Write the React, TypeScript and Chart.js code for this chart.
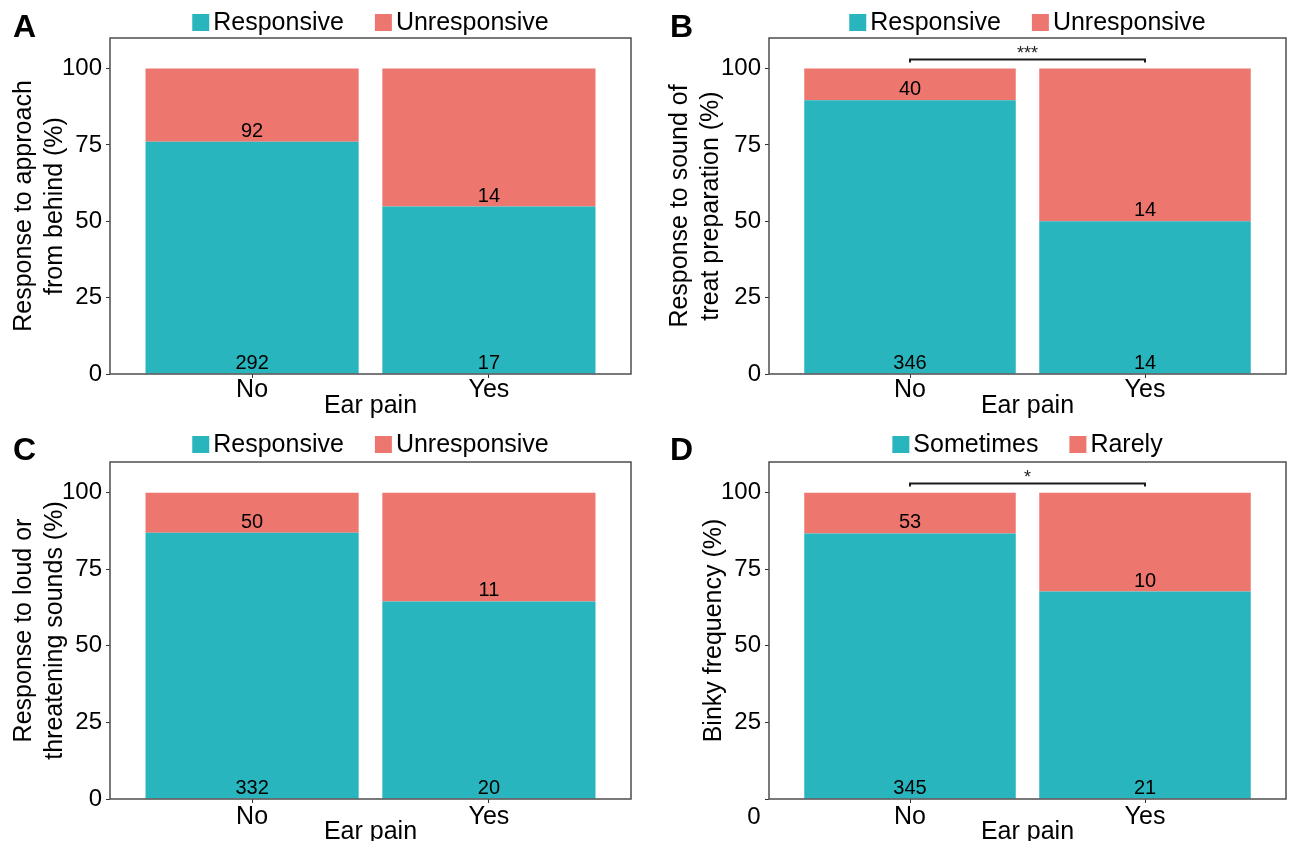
import React, { useEffect, useRef } from 'react';
import { Chart, registerables } from 'chart.js';

Chart.register(...registerables);

const FONT = "'Liberation Sans', Arial, Helvetica, sans-serif";

// ---------- data ----------
const categories = ['No', 'Yes'];
const yTickValues = [0, 25, 50, 75, 100];
const xAxisTitle = 'Ear pain';

const responseLegend = ['Responsive', 'Unresponsive'];
const binkyLegend = ['Sometimes', 'Rarely'];

// A: response to approach from behind
const approachResponsivePct = [76.0, 54.8];
const approachUnresponsivePct = [24.0, 45.2];
const approachResponsiveN = [292, 17];
const approachUnresponsiveN = [92, 14];

// B: response to sound of treat preparation
const treatResponsivePct = [89.6, 50.0];
const treatUnresponsivePct = [10.4, 50.0];
const treatResponsiveN = [346, 14];
const treatUnresponsiveN = [40, 14];

// C: response to loud or threatening sounds
const loudResponsivePct = [86.9, 64.5];
const loudUnresponsivePct = [13.1, 35.5];
const loudResponsiveN = [332, 20];
const loudUnresponsiveN = [50, 11];

// D: binky frequency
const binkySometimesPct = [86.7, 67.7];
const binkyRarelyPct = [13.3, 32.3];
const binkySometimesN = [345, 21];
const binkyRarelyN = [53, 10];

// significance brackets
const sigB = '***';
const sigD = '*';
const bracketLevel = 103;
const bracketTickEnd = 102;

const TEAL = '#29b5bd';
const SALMON = '#ed766f';

type PanelCfg = {
  letter: string;
  yTitle: string[];
  legend: string[];
  lowPct: number[];
  highPct: number[];
  lowN: number[];
  highN: number[];
  sig: string | null;
  zeroBelow: boolean;
  box: { x: number; y: number; w: number; h: number };
  inset: { left: number; right: number; top: number; bottom: number };
  yTitlePad: number;
  xTickPad: number;
  xTitlePadBottom: number;
  letterX: number;
  letterY: number;
  legendY: number;
};

const panels: PanelCfg[] = [
  {
    letter: 'A',
    yTitle: ['Response to approach', 'from behind (%)'],
    legend: responseLegend,
    lowPct: approachResponsivePct,
    highPct: approachUnresponsivePct,
    lowN: approachResponsiveN,
    highN: approachUnresponsiveN,
    sig: null,
    zeroBelow: false,
    box: { x: 0, y: 0, w: 650, h: 420 },
    inset: { left: 110, right: 19, top: 38, bottom: 46 },
    yTitlePad: 8.4,
    xTickPad: 0,
    xTitlePadBottom: -1,
    letterX: 13,
    letterY: 37,
    legendY: 22.5,
  },
  {
    letter: 'B',
    yTitle: ['Response to sound of', 'treat preparation (%)'],
    legend: responseLegend,
    lowPct: treatResponsivePct,
    highPct: treatUnresponsivePct,
    lowN: treatResponsiveN,
    highN: treatUnresponsiveN,
    sig: sigB,
    zeroBelow: false,
    box: { x: 650, y: 0, w: 641, h: 420 },
    inset: { left: 119, right: 5, top: 38, bottom: 46 },
    yTitlePad: 14.4,
    xTickPad: 0,
    xTitlePadBottom: -1,
    letterX: 20,
    letterY: 37,
    legendY: 22.5,
  },
  {
    letter: 'C',
    yTitle: ['Response to loud or', 'threatening sounds (%)'],
    legend: responseLegend,
    lowPct: loudResponsivePct,
    highPct: loudUnresponsivePct,
    lowN: loudResponsiveN,
    highN: loudUnresponsiveN,
    sig: null,
    zeroBelow: false,
    box: { x: 0, y: 420, w: 650, h: 421 },
    inset: { left: 110, right: 19, top: 42, bottom: 42 },
    yTitlePad: 8.4,
    xTickPad: 2,
    xTitlePadBottom: -6,
    letterX: 13,
    letterY: 40,
    legendY: 24.5,
  },
  {
    letter: 'D',
    yTitle: ['Binky frequency (%)'],
    legend: binkyLegend,
    lowPct: binkySometimesPct,
    highPct: binkyRarelyPct,
    lowN: binkySometimesN,
    highN: binkyRarelyN,
    sig: sigD,
    zeroBelow: true,
    box: { x: 650, y: 420, w: 641, h: 421 },
    inset: { left: 119, right: 5, top: 42, bottom: 42 },
    yTitlePad: 48.4,
    xTickPad: 2,
    xTitlePadBottom: -6,
    letterX: 20,
    letterY: 40,
    legendY: 24.5,
  },
];

const decorPlugin = {
  id: 'decor',
  afterDatasetsDraw(chart: any, _args: any, opts: any) {
    const ctx = chart.ctx;
    ctx.save();
    ctx.font = `20px ${FONT}`;
    ctx.fillStyle = '#000';
    ctx.textAlign = 'center';
    ctx.textBaseline = 'alphabetic';
    chart.data.datasets.forEach((ds: any, di: number) => {
      const meta = chart.getDatasetMeta(di);
      meta.data.forEach((el: any, i: number) => {
        ctx.fillText(String(ds.counts[i]), el.x, el.base - 5);
      });
    });
    ctx.restore();
  },
  afterDraw(chart: any, _args: any, opts: any) {
    const ctx = chart.ctx;
    const a = chart.chartArea;
    const cfg: PanelCfg = opts.cfg;
    ctx.save();
    // panel box
    ctx.strokeStyle = '#4d4d4d';
    ctx.lineWidth = 1.5;
    ctx.strokeRect(a.left, a.top, a.right - a.left, a.bottom - a.top);

    // legend
    ctx.font = `25px ${FONT}`;
    const sw = 17;
    const gapText = 4;
    const gapItem = 31;
    const items = chart.data.datasets.map((d: any) => ({ label: d.label, color: d.backgroundColor }));
    const widths = items.map((it: any) => sw + gapText + ctx.measureText(it.label).width);
    const total = widths.reduce((s: number, w: number) => s + w, 0) + gapItem * (items.length - 1);
    let lx = (a.left + a.right) / 2 - total / 2;
    const ly = cfg.legendY;
    items.forEach((it: any, i: number) => {
      ctx.fillStyle = it.color;
      ctx.fillRect(lx, ly - sw / 2, sw, sw);
      ctx.fillStyle = '#000';
      ctx.textAlign = 'left';
      ctx.textBaseline = 'middle';
      ctx.fillText(it.label, lx + sw + gapText, ly + 1);
      lx += widths[i] + gapItem;
    });

    // panel letter
    ctx.font = `bold 32px ${FONT}`;
    ctx.fillStyle = '#000';
    ctx.textAlign = 'left';
    ctx.textBaseline = 'alphabetic';
    ctx.fillText(cfg.letter, cfg.letterX, cfg.letterY);

    // significance bracket
    if (cfg.sig) {
      const xs = chart.scales.x;
      const ys = chart.scales.y;
      const x1 = xs.getPixelForValue(1);
      const x2 = xs.getPixelForValue(2);
      const yl = ys.getPixelForValue(bracketLevel);
      const yt = ys.getPixelForValue(bracketTickEnd);
      ctx.strokeStyle = '#1a1a1a';
      ctx.lineWidth = 2;
      ctx.beginPath();
      ctx.moveTo(x1, yt);
      ctx.lineTo(x1, yl);
      ctx.lineTo(x2, yl);
      ctx.lineTo(x2, yt);
      ctx.stroke();
      ctx.font = `18px ${FONT}`;
      ctx.fillStyle = '#222';
      ctx.textAlign = 'center';
      ctx.textBaseline = 'alphabetic';
      ctx.fillText(cfg.sig, (x1 + x2) / 2, yl);
    }

    // displaced zero label (panel D)
    if (cfg.zeroBelow) {
      ctx.font = `24px ${FONT}`;
      ctx.fillStyle = '#000';
      ctx.textAlign = 'center';
      ctx.textBaseline = 'middle';
      ctx.fillText(String(yTickValues[0]), a.left - 15, a.bottom + 18);
    }
    ctx.restore();
  },
};

function makeConfig(cfg: PanelCfg): any {
  return {
    type: 'bar',
    data: {
      datasets: [
        {
          label: cfg.legend[0],
          data: cfg.lowPct.map((v, i) => ({ x: i + 1, y: v })),
          counts: cfg.lowN,
          backgroundColor: TEAL,
          borderWidth: 0,
          barPercentage: 0.9,
          categoryPercentage: 1,
        },
        {
          label: cfg.legend[1],
          data: cfg.highPct.map((v, i) => ({ x: i + 1, y: v })),
          counts: cfg.highN,
          backgroundColor: SALMON,
          borderWidth: 0,
          barPercentage: 0.9,
          categoryPercentage: 1,
        },
      ],
    },
    options: {
      animation: false,
      responsive: false,
      devicePixelRatio: 1,
      layout: { padding: { left: 0, right: cfg.inset.right, top: cfg.inset.top, bottom: 0 } },
      plugins: {
        legend: { display: false },
        tooltip: { enabled: false },
        decor: { cfg },
      },
      scales: {
        x: {
          type: 'linear',
          stacked: true,
          min: 0.4,
          max: 2.6,
          offset: false,
          afterBuildTicks: (scale: any) => {
            scale.ticks = categories.map((_, i) => ({ value: i + 1 }));
          },
          afterFit: (scale: any) => {
            scale.height = cfg.inset.bottom;
          },
          ticks: {
            callback: (v: any) => categories[Math.round(Number(v)) - 1] ?? '',
            font: { family: FONT, size: 25, lineHeight: 1.0 },
            color: '#000',
            padding: cfg.xTickPad,
            maxRotation: 0,
            autoSkip: false,
          },
          grid: {
            display: true,
            offset: false,
            drawOnChartArea: false,
            drawTicks: true,
            tickLength: 4,
            color: '#333',
            lineWidth: 1,
          },
          border: { display: false },
          title: {
            display: true,
            text: xAxisTitle,
            color: '#000',
            font: { family: FONT, size: 25, lineHeight: 1.2 },
            padding: { top: 0, bottom: cfg.xTitlePadBottom },
          },
        },
        y: {
          type: 'linear',
          stacked: true,
          min: 0,
          max: 110,
          afterBuildTicks: (scale: any) => {
            scale.ticks = yTickValues.map((v) => ({ value: v }));
          },
          afterFit: (scale: any) => {
            scale.width = cfg.inset.left;
          },
          ticks: {
            callback: (v: any) => (cfg.zeroBelow && Number(v) === 0 ? '' : String(v)),
            font: { family: FONT, size: 24 },
            color: '#000',
            padding: 4,
          },
          grid: {
            display: true,
            drawOnChartArea: false,
            drawTicks: true,
            tickLength: 4,
            color: '#333',
            lineWidth: 1,
          },
          border: { display: false },
          title: {
            display: true,
            text: cfg.yTitle,
            color: '#000',
            font: { family: FONT, size: 25, lineHeight: 1.25 },
            padding: { top: cfg.yTitlePad, bottom: 0 },
          },
        },
      },
    },
    plugins: [decorPlugin],
  };
}

function Panel({ cfg }: { cfg: PanelCfg }) {
  const ref = useRef<HTMLCanvasElement>(null);
  useEffect(() => {
    if (!ref.current) return;
    const chart = new Chart(ref.current, makeConfig(cfg));
    return () => chart.destroy();
  }, [cfg]);
  return (
    <canvas
      ref={ref}
      width={cfg.box.w}
      height={cfg.box.h}
      style={{
        position: 'absolute',
        left: cfg.box.x,
        top: cfg.box.y,
        width: cfg.box.w,
        height: cfg.box.h,
      }}
    />
  );
}

export default function App() {
  return (
    <div
      style={{
        position: 'absolute',
        left: 0,
        top: 0,
        width: 1291,
        height: 841,
        background: '#fff',
        overflow: 'hidden',
      }}
    >
      {panels.map((p) => (
        <Panel key={p.letter} cfg={p} />
      ))}
    </div>
  );
}
